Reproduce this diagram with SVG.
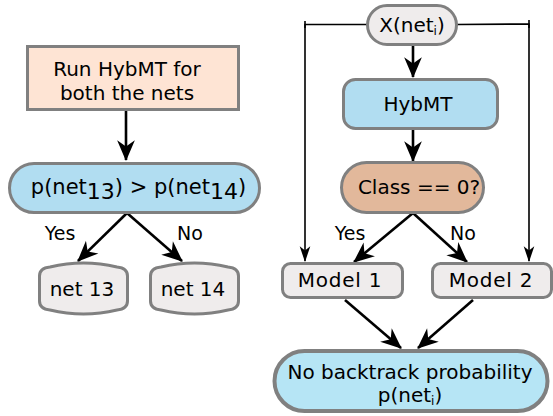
<svg xmlns="http://www.w3.org/2000/svg" width="553" height="416" viewBox="0 0 553 416">
<style>
text{font-family:"DejaVu Sans",Verdana,sans-serif;fill:#000;text-anchor:middle}
.n{stroke:#808080;stroke-width:3}
.c{stroke:#000;stroke-width:2.6;fill:none}
.t{stroke:#000;stroke-width:1.6;fill:none}
.f21{font-size:21px}
.f20{font-size:20px}
.f19{font-size:19px}
</style>
<defs>
<marker id="a" markerUnits="userSpaceOnUse" markerWidth="24" markerHeight="24" viewBox="-21 -10 23 20" refX="0" refY="0" orient="auto">
<path d="M1,0 L-19,-8.5 L-13,0 L-19,8.5 Z" fill="#000"/>
</marker>
<marker id="s" markerUnits="userSpaceOnUse" markerWidth="18" markerHeight="14" viewBox="-16 -6 17 12" refX="0" refY="0" orient="auto">
<path d="M1,0 L-14,-5 L-10,0 L-14,5 Z" fill="#000"/>
</marker>
</defs>

<g id="connectors">
<line class="c" x1="126" y1="111" x2="126" y2="160" marker-end="url(#a)"/>
<line class="c" x1="127" y1="213" x2="78" y2="261" marker-end="url(#a)"/>
<line class="c" x1="127" y1="213" x2="182" y2="261" marker-end="url(#a)"/>
<line class="c" x1="413" y1="45" x2="413" y2="77" marker-end="url(#a)"/>
<line class="c" x1="413" y1="129" x2="413" y2="161" marker-end="url(#a)"/>
<line class="c" x1="413" y1="213" x2="354" y2="262" marker-end="url(#a)"/>
<line class="c" x1="413" y1="213" x2="467" y2="262" marker-end="url(#a)"/>
<line class="c" x1="345" y1="300" x2="401" y2="348" marker-end="url(#a)"/>
<line class="c" x1="473" y1="300" x2="418" y2="348" marker-end="url(#a)"/>
<polyline class="t" points="367,24.5 305,24.5 305,261" marker-end="url(#s)"/>
<polyline class="t" points="457,24.5 529,24 529,261" marker-end="url(#s)"/>
<line class="t" x1="305" y1="21" x2="305" y2="28"/>
<line class="t" x1="529" y1="20" x2="529" y2="28"/>
</g>

<g id="run">
<rect class="n" x="27.5" y="46.5" width="211" height="63" fill="#fee4d4"/>
<text class="f20" x="127" y="76">Run HybMT for</text>
<text class="f20" x="127" y="100">both the nets</text>
</g>

<g id="compare">
<rect class="n" x="9.5" y="163.5" width="250" height="49" rx="24.5" fill="#b1ddf1"/>
<text class="f21" x="138.5" y="194">p(net<tspan font-size="22" dy="5">13</tspan><tspan dy="-5">) &gt; p(net</tspan><tspan font-size="22" dy="5">14</tspan><tspan dy="-5">)</tspan></text>
</g>

<text class="f19" x="60" y="240">Yes</text>
<text class="f19" x="190" y="240">No</text>

<g id="net13">
<path class="n" fill="#efecec" d="M39.5,276 Q39.5,268 50,267 Q83.5,259 117,267 Q127.5,268 127.5,276 L127.5,301 Q127.5,309 117,310 Q83.5,318 50,310 Q39.5,309 39.5,301 Z"/>
<text class="f20" x="82" y="296">net 13</text>
</g>

<g id="net14">
<path class="n" fill="#efecec" d="M150.5,276 Q150.5,268 161,267 Q194.5,259 228,267 Q238.5,268 238.5,276 L238.5,301 Q238.5,309 228,310 Q194.5,318 161,310 Q150.5,309 150.5,301 Z"/>
<text class="f20" x="193" y="296">net 14</text>
</g>

<g id="x">
<rect class="n" x="367.5" y="5.5" width="89" height="39" rx="19.5" fill="#efecec"/>
<text class="f20" x="412" y="32">X(net<tspan font-size="12" dy="3">i</tspan><tspan dy="-3">)</tspan></text>
</g>

<g id="hybmt">
<rect class="n" x="343.5" y="79.5" width="154" height="49" rx="12" fill="#b1ddf1"/>
<text class="f20" x="418" y="111">HybMT</text>
</g>

<g id="class">
<rect class="n" x="341.5" y="162.5" width="142" height="50" rx="25" fill="#e2b89b"/>
<text class="f20" x="419" y="194">Class == 0?</text>
</g>

<text class="f19" x="350" y="240">Yes</text>
<text class="f19" x="463" y="240">No</text>

<g id="model1">
<rect class="n" x="282.5" y="263.5" width="120" height="34" rx="8" fill="#efecec"/>
<text class="f20" x="340" y="287" letter-spacing="0.8">Model 1</text>
</g>

<g id="model2">
<rect class="n" x="432.5" y="263.5" width="119" height="34" rx="8" fill="#efecec"/>
<text class="f20" x="491" y="287" letter-spacing="0.8">Model 2</text>
</g>

<g id="result">
<rect x="274.5" y="351" width="273" height="60" rx="30" fill="#b6e5f5" stroke="#808080" stroke-width="4"/>
<text class="f20" x="410" y="379">No backtrack probability</text>
<text class="f20" x="410" y="402">p(net<tspan font-size="12" dy="3">i</tspan><tspan dy="-3">)</tspan></text>
</g>
</svg>
